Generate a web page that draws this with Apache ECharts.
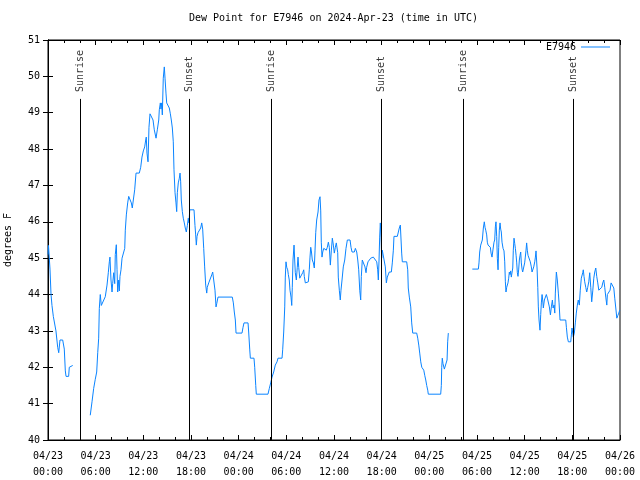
<!DOCTYPE html>
<html>
<head>
<meta charset="utf-8">
<script src="https://cdn.jsdelivr.net/npm/echarts@6/dist/echarts.min.js"></script>
<style>html,body{margin:0;padding:0;background:#fff;}#c{width:640px;height:480px;}</style>
</head>
<body>
<div id="c"></div>
<script>
// x values are hours since 2024-04-23 00:00 UTC
const xTickLabels = ['04/23\n00:00','04/23\n06:00','04/23\n12:00','04/23\n18:00','04/24\n00:00','04/24\n06:00','04/24\n12:00','04/24\n18:00','04/25\n00:00','04/25\n06:00','04/25\n12:00','04/25\n18:00','04/26\n00:00'];
const sunTimes = [4.07, 17.83, 28.1, 41.95, 52.25, 66.12];
const sunNames = ['Sunrise','Sunset','Sunrise','Sunset','Sunrise','Sunset'];

const obsA = [[0,45.1],[0.06,45.35],[0.19,45.35],[0.25,44.7],[0.38,44.0],[0.5,43.7],[0.67,43.4],[1.0,43.0],[1.22,42.55],[1.35,42.4],[1.51,42.75],[1.85,42.75],[2.05,42.5],[2.18,41.9],[2.27,41.75],[2.6,41.75],[2.68,42.0],[2.81,42.05],[3.11,42.05]];

const obsB = [[5.32,40.68],[5.54,41.05],[5.75,41.42],[5.95,41.67],[6.13,41.87],[6.26,42.4],[6.38,42.8],[6.46,43.62],[6.58,44.0],[6.71,43.7],[6.89,43.7],[7.21,43.94],[7.43,44.26],[7.59,44.6],[7.72,44.9],[7.8,45.03],[7.93,44.4],[8.06,44.07],[8.14,44.3],[8.27,44.6],[8.4,44.3],[8.47,45.1],[8.6,45.37],[8.69,44.68],[8.77,44.07],[8.9,44.4],[8.98,44.1],[9.06,44.5],[9.19,44.68],[9.32,45.0],[9.48,45.05],[9.66,45.27],[9.73,45.77],[9.86,46.19],[10.03,46.52],[10.16,46.7],[10.36,46.7],[10.49,46.52],[10.61,46.38],[10.74,46.6],[10.91,46.88],[11.08,47.34],[11.49,47.34],[11.67,47.5],[11.83,47.78],[12.0,47.95],[12.17,48.06],[12.3,48.25],[12.37,48.33],[12.46,47.89],[12.59,47.65],[12.71,48.6],[12.84,48.97],[13.09,48.97],[13.22,48.8],[13.38,48.53],[13.6,48.3],[13.76,48.53],[13.94,48.8],[14.01,49.08],[14.14,49.27],[14.22,49.1],[14.31,49.27],[14.39,48.94],[14.51,49.95],[14.64,50.26],[14.73,49.95],[14.85,49.54],[14.94,49.27],[15.14,49.27],[15.27,49.13],[15.4,48.97],[15.52,48.8],[15.65,48.58],[15.77,48.2],[15.86,47.43],[15.99,46.8],[16.11,46.52],[16.2,46.28],[16.28,46.8],[16.4,47.07],[16.53,47.2],[16.62,47.34],[16.7,47.1],[16.78,46.6],[16.91,46.28],[17.03,46.1],[17.16,45.97],[17.28,45.83],[17.41,45.72],[17.54,45.9],[17.66,46.1],[17.75,45.97],[17.84,46.33],[18.38,46.33],[18.5,45.9],[18.59,45.64],[18.67,45.36],[18.76,45.6],[18.88,45.7],[19.1,45.72],[19.22,45.83],[19.35,45.97],[19.47,45.8],[19.6,45.27],[19.72,44.76],[19.85,44.26],[19.98,44.04],[20.05,44.2],[20.23,44.32],[20.48,44.35],[20.61,44.54],[20.73,44.62],[20.9,44.62],[21.02,44.12],[21.15,43.66],[21.24,43.75],[21.4,43.93],[23.2,43.93],[23.33,43.77],[23.45,43.52],[23.58,43.3],[23.67,42.94],[24.42,42.94],[24.55,43.1],[24.67,43.22],[25.18,43.22],[25.26,42.97],[25.39,42.5],[25.47,42.25],[25.93,42.25],[26.02,42.0],[26.15,41.5],[26.22,41.26],[27.69,41.26],[27.86,41.42],[28.03,41.57],[28.2,41.73],[28.41,41.87],[28.61,42.06],[28.83,42.15],[28.95,42.25],[29.46,42.25],[29.54,42.48],[29.67,42.97],[29.8,43.66],[29.87,44.48],[29.96,44.9],[30.05,44.75],[30.17,44.68],[30.25,44.55],[30.37,44.4],[30.46,44.12],[30.59,43.93],[30.68,43.7],[30.75,44.2],[30.84,44.95],[30.97,45.36],[31.05,44.95],[31.13,44.6],[31.26,44.4],[31.38,44.75],[31.47,45.03],[31.56,44.75],[31.69,44.45],[31.81,44.4],[31.94,44.42],[32.06,44.6],[32.19,44.68],[32.26,44.5],[32.39,44.32],[32.64,44.32],[32.77,44.35],[32.89,44.68],[32.98,45.03],[33.07,45.3],[33.15,45.2],[33.27,44.95],[33.4,44.87],[33.52,44.73],[33.61,45.2],[33.7,45.7],[33.82,46.05],[33.99,46.27],[34.11,46.6],[34.24,46.69],[34.33,46.3],[34.4,45.44],[34.49,45.03],[34.58,45.17],[34.71,45.27],[34.91,45.27],[35.03,45.22],[35.16,45.3],[35.29,45.44],[35.41,45.3],[35.54,44.81],[35.66,45.2],[35.79,45.55],[35.92,45.36],[36.04,45.14],[36.17,45.3],[36.29,45.42],[36.47,45.15],[36.54,44.48],[36.67,44.12],[36.79,43.85],[36.88,44.12],[37.01,44.4],[37.17,44.76],[37.35,44.95],[37.51,45.27],[37.68,45.5],[38.02,45.5],[38.14,45.3],[38.27,45.17],[38.56,45.17],[38.69,45.27],[38.77,45.27],[38.86,45.17],[38.99,44.95],[39.11,44.68],[39.24,44.12],[39.36,43.85],[39.44,44.5],[39.56,44.95],[39.78,44.95],[39.9,44.76],[40.03,44.6],[40.11,44.75],[40.28,44.9],[40.44,44.92],[40.62,45.0],[40.95,45.03],[41.2,45.03],[41.38,44.9],[41.5,44.68],[41.58,44.4],[41.67,44.95],[41.75,45.58],[41.83,45.97],[41.92,45.58],[42.0,45.0],[42.08,45.22],[42.21,45.17],[42.33,45.27],[42.46,44.76],[42.59,44.32],[42.71,44.48],[42.84,44.5],[42.96,44.62],[43.22,44.62],[43.34,44.87],[43.47,45.22],[43.55,45.6],[43.97,45.6],[44.15,45.65],[44.22,45.83],[44.35,45.91],[44.44,45.5],[44.52,45.14],[44.6,44.9],[45.15,44.9],[45.28,44.68],[45.35,44.18],[45.48,43.93],[45.66,43.66],[45.78,43.22],[45.91,42.94],[46.41,42.94],[46.54,42.8],[46.67,42.61],[46.79,42.39],[46.92,42.15],[47.05,42.0],[47.3,41.92],[47.42,41.78],[47.55,41.65],[47.67,41.5],[47.8,41.37],[47.87,41.26],[49.43,41.26],[49.51,41.5],[49.56,42.0],[49.63,42.25],[49.72,42.1],[49.89,41.95],[50.14,41.95],[50.23,42.2],[50.31,42.7],[50.39,42.94]];

const obsC = [[53.41,44.7],[54.17,44.7],[54.25,44.87],[54.34,45.17],[54.47,45.36],[54.59,45.36],[54.67,45.5],[54.8,45.83],[54.92,46.0],[55.01,45.85],[55.1,45.77],[55.22,45.64],[55.3,45.44],[55.39,45.36],[55.68,45.3],[55.77,45.14],[55.89,45.03],[56.02,45.25],[56.14,45.44],[56.23,45.5],[56.31,45.86],[56.39,46.0],[56.48,45.6],[56.56,45.0],[56.65,44.68],[56.73,45.3],[56.81,45.77],[56.9,45.97],[56.98,45.8],[57.06,45.72],[57.15,45.44],[57.28,45.27],[57.4,45.2],[57.49,44.9],[57.57,44.35],[57.65,44.07],[57.74,44.2],[57.82,44.15],[57.9,44.32],[57.99,44.45],[58.07,44.62],[58.16,44.55],[58.24,44.65],[58.32,44.48],[58.41,44.48],[58.5,44.73],[58.57,45.22],[58.66,45.55],[58.75,45.4],[58.83,45.27],[58.92,45.08],[59.0,44.87],[59.08,44.6],[59.16,44.5],[59.25,44.7],[59.33,44.95],[59.42,45.08],[59.5,45.17],[59.58,44.87],[59.67,44.7],[59.75,44.62],[59.92,44.62],[60.0,44.87],[60.08,45.03],[60.17,45.22],[60.25,45.42],[60.33,45.22],[60.42,45.08],[60.55,45.03],[60.71,44.9],[60.84,44.76],[60.93,44.62],[61.05,44.62],[61.14,44.76],[61.27,44.9],[61.35,45.03],[61.43,45.2],[61.56,44.73],[61.65,44.2],[61.72,43.66],[61.81,43.3],[61.93,43.02],[62.02,43.45],[62.1,43.77],[62.19,44.0],[62.27,43.85],[62.35,43.63],[62.48,43.85],[62.6,43.9],[62.73,44.0],[62.86,43.9],[62.98,43.9],[63.11,43.66],[63.24,43.44],[63.36,43.66],[63.49,43.85],[63.58,43.63],[63.7,43.71],[63.79,43.49],[63.86,44.04],[63.99,44.62],[64.11,44.4],[64.24,44.04],[64.33,43.77],[64.45,43.3],[65.17,43.3],[65.25,43.1],[65.37,42.83],[65.5,42.7],[65.8,42.7],[65.88,42.89],[65.96,43.08],[66.05,42.94],[66.12,42.83],[66.25,42.94],[66.38,43.22],[66.5,43.49],[66.63,43.71],[66.75,43.85],[66.88,43.71],[67.0,44.12],[67.13,44.45],[67.31,44.6],[67.38,44.68],[67.47,44.5],[67.56,44.35],[67.69,44.2],[67.81,44.07],[67.94,44.2],[68.07,44.35],[68.19,44.6],[68.32,44.2],[68.44,43.8],[68.57,44.1],[68.7,44.45],[68.82,44.62],[68.95,44.73],[69.07,44.5],[69.2,44.32],[69.33,44.12],[69.58,44.12],[69.71,44.2],[69.83,44.32],[69.96,44.4],[70.08,44.2],[70.21,43.93],[70.34,43.71],[70.41,44.0],[70.62,44.0],[70.75,44.12],[70.88,44.32],[71.09,44.32],[71.22,44.18],[71.34,43.9],[71.47,43.63],[71.6,43.35],[71.72,43.42],[71.85,43.49],[71.97,43.57]];

const sunLineTop = 49.38;
const sunLabelY = 49.57;

const FONT = 'DejaVu Sans Mono';
const lineData = obsA.concat([[4.0,'-']], obsB, [[52.0,'-']], obsC);

const chart = echarts.init(document.getElementById('c'), null, {renderer: 'canvas'});
const axisCommon = {
  axisLine: {show: true, lineStyle: {color: '#000', width: 1}},
  splitLine: {show: false}
};
chart.setOption({
  animation: false,
  backgroundColor: '#fff',
  textStyle: {fontFamily: FONT},
  title: {
    text: 'Dew Point for E7946 on 2024-Apr-23 (time in UTC)',
    left: 189, top: 13, padding: 0,
    textStyle: {fontFamily: FONT, fontSize: 10, fontWeight: 'normal', color: '#000'}
  },
  legend: {
    data: ['E7946'],
    right: 30, top: 42, padding: 0,
    align: 'right',
    icon: 'rect', itemWidth: 29, itemHeight: 1,
    textStyle: {fontFamily: FONT, fontSize: 10, color: '#000'}
  },
  grid: {left: 48, right: 20, top: 40, bottom: 40, show: true, borderColor: '#000', borderWidth: 1,
         backgroundColor: 'transparent', containLabel: false, outerBoundsMode: 'none'},
  xAxis: [
    Object.assign({
      type: 'value', min: 0, max: 72, interval: 6, position: 'bottom',
      axisTick: {show: true, inside: true, length: 5, lineStyle: {color: '#000'}},
      minorTick: {show: true, splitNumber: 3, length: 3, lineStyle: {color: '#000'}},
      axisLabel: {
        show: true, margin: 8, color: '#000', fontFamily: FONT, fontSize: 10, lineHeight: 16,
        showMinLabel: true, showMaxLabel: true,
        formatter: v => xTickLabels[Math.round(v / 6)]
      }
    }, axisCommon),
    Object.assign({
      type: 'value', min: 0, max: 72, interval: 6, position: 'top',
      axisTick: {show: true, inside: true, length: 5, lineStyle: {color: '#000'}},
      minorTick: {show: true, splitNumber: 3, length: 3, lineStyle: {color: '#000'}},
      axisLabel: {show: false}
    }, axisCommon)
  ],
  yAxis: [
    Object.assign({
      type: 'value', min: 40, max: 51, interval: 1, position: 'left',
      name: 'degrees F', nameLocation: 'middle', nameGap: 35, nameRotate: 90,
      nameTextStyle: {fontFamily: FONT, fontSize: 10, color: '#000'},
      axisTick: {show: true, inside: true, length: 5, lineStyle: {color: '#000'}},
      axisLabel: {show: true, margin: 8, color: '#000', fontFamily: FONT, fontSize: 10}
    }, axisCommon),
    Object.assign({
      type: 'value', min: 40, max: 51, interval: 1, position: 'right',
      axisTick: {show: true, inside: true, length: 5, lineStyle: {color: '#000'}},
      axisLabel: {show: false}
    }, axisCommon)
  ],
  series: [
    {
      name: 'E7946', type: 'line', xAxisIndex: 0, yAxisIndex: 0,
      data: lineData, showSymbol: false, symbol: 'none', connectNulls: false,
      color: '#0a84ff',
      lineStyle: {color: '#0a84ff', width: 1},
      markLine: {
        silent: true, symbol: ['none', 'none'], animation: false,
        lineStyle: {color: '#000', width: 1, type: 'solid'},
        label: {show: false},
        data: sunTimes.map(t => [{coord: [t, 40]}, {coord: [t, sunLineTop]}])
      },
      z: 3
    },
    {
      name: 'sun', type: 'scatter', xAxisIndex: 0, yAxisIndex: 0,
      symbolSize: 1, itemStyle: {color: 'rgba(0,0,0,0)'},
      silent: true,
      data: sunTimes.map((t, i) => ({name: sunNames[i], value: [t, sunLabelY]})),
      label: {
        show: true, position: 'inside', rotate: 90, align: 'left', verticalAlign: 'middle',
        formatter: '{b}', color: '#000', fontFamily: FONT, fontSize: 10
      }
    }
  ]
});
</script>
</body>
</html>
